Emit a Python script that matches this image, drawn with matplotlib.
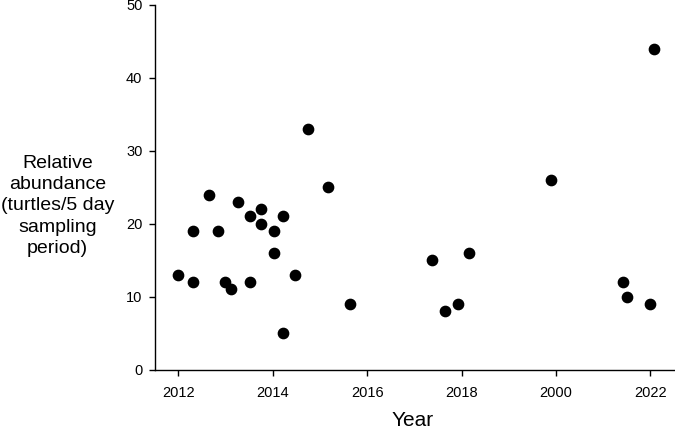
import matplotlib
matplotlib.use("Agg")
import matplotlib.pyplot as plt

plt.rcParams['font.family'] = ['Liberation Sans', 'DejaVu Sans']

# Data (x = decimal year, y = relative abundance)
years = [2012.00, 2012.31, 2012.31, 2012.66, 2012.85, 2012.99, 2013.11, 2013.26,
         2013.52, 2013.52, 2013.75, 2013.75, 2014.02, 2014.02, 2014.21, 2014.21,
         2014.47, 2014.75, 2015.18, 2015.64, 2017.37, 2017.64, 2017.92, 2018.15,
         2019.89, 2021.41, 2021.51, 2021.98, 2022.08]
abundance = [13, 19, 12, 24, 19, 12, 11, 23,
             21, 12, 22, 20, 19, 16, 21, 5,
             13, 33, 25, 9, 15, 8, 9, 16,
             26, 12, 10, 9, 44]

xtick_pos = [2012, 2014, 2016, 2018, 2020, 2022]
xtick_labels = ['2012', '2014', '2016', '2018', '2000', '2022']
ytick_pos = [0, 10, 20, 30, 40, 50]

fig = plt.figure(figsize=(6.75, 4.3), dpi=100)
ax = fig.add_axes([155/675, 1 - 369.5/430, 1 - 155/675, (369.5 - 5)/430])
ax.scatter(years, abundance, s=55, color='black', zorder=3, clip_on=False)

ax.set_xlim(2011.506, 2022.52)
ax.set_ylim(0, 50)
ax.set_xticks(xtick_pos)
ax.set_xticklabels(xtick_labels)
ax.set_yticks(ytick_pos)
ax.spines['top'].set_visible(False)
ax.spines['right'].set_visible(False)
for s in ('left', 'bottom'):
    ax.spines[s].set_linewidth(1.0)
ax.tick_params(direction='out', length=4, width=1.0, labelsize=10.5, pad=5)
ax.tick_params(axis='x', pad=8)

fig.text(413/675, 1 - 420/430, 'Year', ha='center', va='center', fontsize=15)
fig.text(57.5/675, 1 - 206/430, 'Relative\nabundance\n(turtles/5 day\nsampling\nperiod)',
         ha='center', va='center', fontsize=14, linespacing=1.33)

fig.savefig('out.png', dpi=100)
